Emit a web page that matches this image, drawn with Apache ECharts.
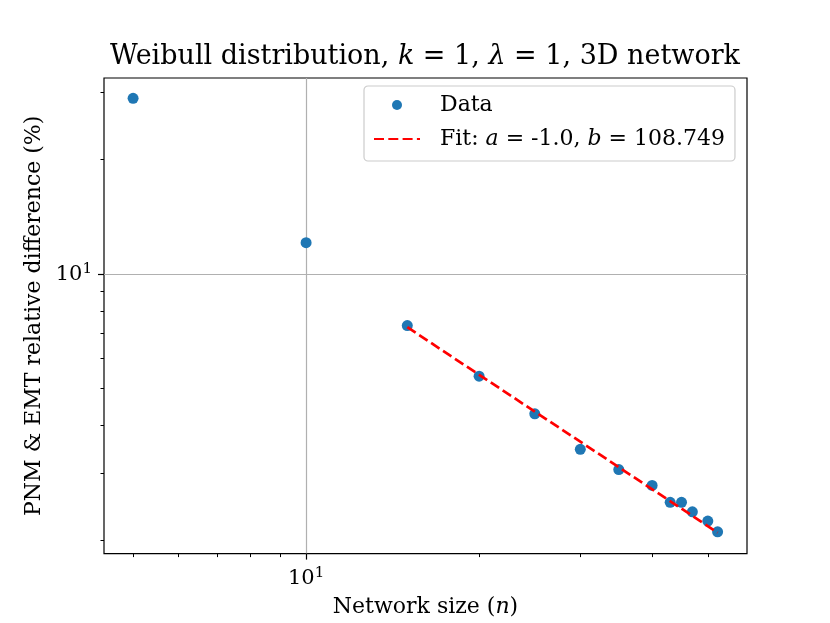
<!DOCTYPE html>
<html>
<head>
<meta charset="utf-8">
<script src="https://cdn.jsdelivr.net/npm/echarts@6/dist/echarts.min.js"></script>
<style>
  html, body { margin: 0; padding: 0; background: #fff; }
  #chart { width: 830px; height: 623px; }
</style>
</head>
<body>
<div id="chart"></div>
<script>
// network sizes and measured relative differences (%)
const networkSizes = [5, 10, 15, 20, 25, 30, 35, 40, 43, 45, 47, 50, 52];
const relDiff = [29.0, 12.1, 7.32, 5.39, 4.29, 3.46, 3.06, 2.78, 2.51, 2.51, 2.37, 2.24, 2.10];

// fitted power law, read at the ends of the fitted range
const fitSizes = [15, 52];
const fitDiff = [7.25, 2.09];

// axis extents (data units) and ticks
const xRange = [4.45, 58.5];
const yRange = [1.84, 32.8];
const xMajorTicks = [10];
const yMajorTicks = [10];
const xMinorTicks = [5, 6, 7, 8, 9, 20, 30, 40, 50];
const yMinorTicks = [2, 3, 4, 5, 6, 7, 8, 9, 20, 30];

const SERIF = '"DejaVu Serif", serif';
const lg = Math.log10;

const rich = {
  r: { fontFamily: SERIF, fontSize: 22, color: '#000' },
  i: { fontFamily: SERIF, fontSize: 22, color: '#000', fontStyle: 'italic' },
  b: { fontFamily: SERIF, fontSize: 21, color: '#000', lineHeight: 26 },
  s: { fontFamily: SERIF, fontSize: 15, color: '#000', lineHeight: 26, padding: [0, 0, 10, 0] }
};

function powLabel(v) {
  const e = Math.round(v);
  return '{b|10}{s|' + e + '}';
}

function mainAxis(range, major, opts) {
  return Object.assign({
    type: 'value',
    min: lg(range[0]),
    max: lg(range[1]),
    axisLine: { show: false },
    axisTick: {
      show: true, length: 6, customValues: major.map(lg),
      lineStyle: { color: '#000', width: 1.2 }
    },
    axisLabel: {
      customValues: major.map(lg), formatter: powLabel, margin: 12, rich: rich
    },
    splitLine: { show: true, lineStyle: { color: '#b0b0b0', width: 1.2 } },
    nameLocation: 'middle',
    nameTextStyle: { rich: rich }
  }, opts);
}

function minorAxis(range, minor, pos) {
  return {
    type: 'value',
    position: pos,
    min: lg(range[0]),
    max: lg(range[1]),
    axisLine: { show: false },
    axisTick: {
      show: true, length: 3.5, customValues: minor.map(lg),
      lineStyle: { color: '#000', width: 1 }
    },
    axisLabel: { show: false },
    splitLine: { show: false }
  };
}

const chart = echarts.init(document.getElementById('chart'));

chart.setOption({
  animation: false,
  backgroundColor: '#fff',
  title: {
    text: '{r|Weibull distribution, }{i|k}{r| = 1, }{i|λ}{r| = 1, 3D network}',
    left: 420,
    top: 38,
    textAlign: 'center',
    textStyle: {
      fontWeight: 'normal',
      rich: {
        r: { fontFamily: SERIF, fontSize: 27, color: '#000', fontWeight: 'normal' },
        i: { fontFamily: SERIF, fontSize: 27, color: '#000', fontStyle: 'italic', fontWeight: 'normal' }
      }
    }
  },
  grid: {
    left: 104, right: 83, top: 78, bottom: 69,
    show: true, borderColor: '#000', borderWidth: 1.2,
    backgroundColor: 'transparent'
  },
  legend: {
    orient: 'vertical',
    left: 364,
    top: 86,
    padding: [6, 10, 9, 9],
    itemGap: 8,
    itemWidth: 46,
    itemHeight: 10,
    backgroundColor: '#fff',
    borderColor: '#cccccc',
    borderWidth: 1.2,
    borderRadius: 4,
    data: [
      { name: 'Data' },
      { name: 'Fit', itemStyle: { opacity: 0 } }
    ],
    formatter: function (name) {
      if (name === 'Fit') {
        return '{r|Fit: }{i|a}{r| = -1.0, }{i|b}{r| = 108.749}';
      }
      return '{r|' + name + '}';
    },
    textStyle: {
      padding: [0, 0, 0, 15],
      lineHeight: 26,
      rich: {
        r: { fontFamily: SERIF, fontSize: 22, color: '#000', lineHeight: 26 },
        i: { fontFamily: SERIF, fontSize: 22, color: '#000', fontStyle: 'italic', lineHeight: 26 }
      }
    }
  },
  xAxis: [
    mainAxis(xRange, xMajorTicks, {
      position: 'bottom',
      name: '{r|Network size (}{i|n}{r|)}',
      nameGap: 36
    }),
    minorAxis(xRange, xMinorTicks, 'bottom')
  ],
  yAxis: [
    mainAxis(yRange, yMajorTicks, {
      position: 'left',
      name: '{r|PNM & EMT relative difference (%)}',
      nameGap: 57
    }),
    minorAxis(yRange, yMinorTicks, 'left')
  ],
  series: [
    {
      name: 'Data',
      type: 'scatter',
      xAxisIndex: 0,
      yAxisIndex: 0,
      symbol: 'circle',
      symbolSize: 11,
      itemStyle: { color: '#1f77b4', opacity: 1 },
      data: networkSizes.map((n, i) => [lg(n), lg(relDiff[i])]),
      z: 3
    },
    {
      name: 'Fit',
      type: 'line',
      xAxisIndex: 0,
      yAxisIndex: 0,
      symbol: 'none',
      lineStyle: { color: '#ff0000', width: 2.7, type: [10, 4.3] },
      itemStyle: { color: '#ff0000' },
      data: fitSizes.map((n, i) => [lg(n), lg(fitDiff[i])]),
      z: 4
    }
  ]
});
</script>
</body>
</html>
